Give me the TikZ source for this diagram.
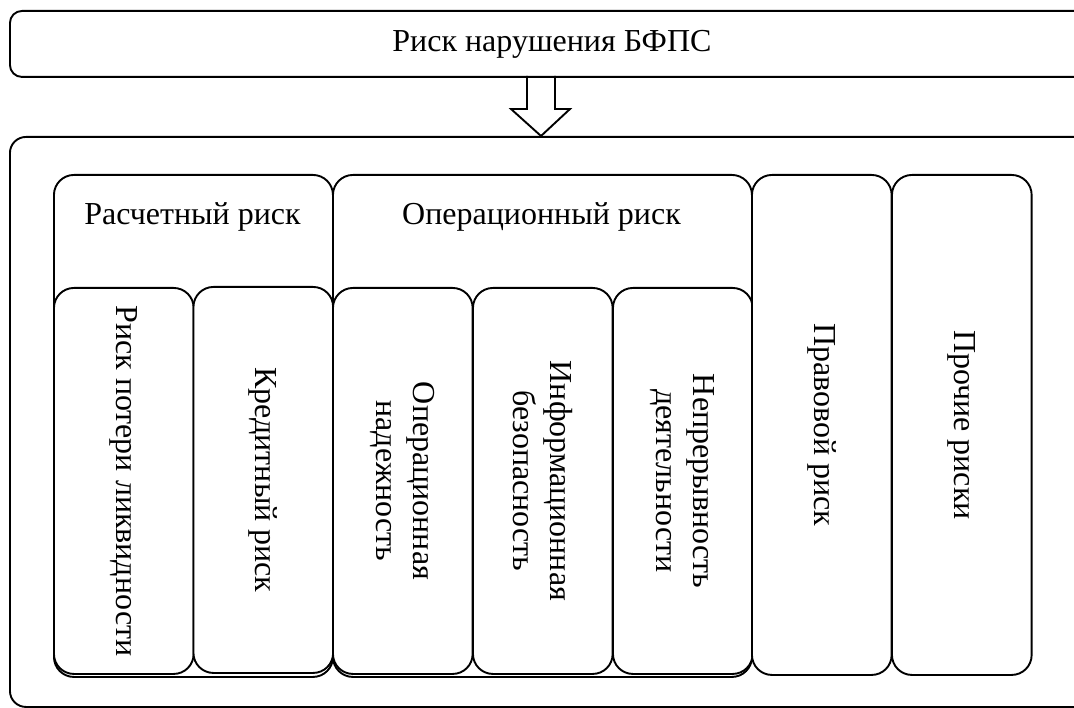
\documentclass[tikz,border=0pt]{standalone}
\usepackage{fontspec}
\setmainfont{Liberation Serif}
\begin{document}
\begin{tikzpicture}[x=1pt,y=-1pt,line width=1.9pt,
  every node/.style={font=\fontsize{32}{37}\selectfont},
  frame/.style={draw,rounded corners=#1,inner sep=0pt,anchor=north west},
  cell/.style={frame=20pt,fill=white,minimum width=139.7pt},
  vtext/.style={rotate=-90,align=center,inner sep=0pt}]
\useasboundingbox (0,0) rectangle (1074,708);
\clip (0,0) rectangle (1074,708);
% block arrow
\coordinate (a1) at (527,76);
\draw[fill=white] (a1) -- ++(0,33) -- ++(-16,0) -- (541,136) -- (570,109) -- (555,109) -- (555,76);
% top box
\node[frame=12pt,minimum width=1084pt,minimum height=66pt] (top) at (9,10) {Риск нарушения БФПС};
% outer frame
\node[frame=16pt,minimum width=1084pt,minimum height=570pt] (outer) at (9,136) {};
% groups
\node[cell,minimum width=279pt,minimum height=502pt] (g1) at (53,174) {};
\node[cell,minimum width=419pt,minimum height=502pt] (g2) at (332,174) {};
\node (g1t) at (192.5,217) {Расчетный риск};
\node (g2t) at (541.5,217) {Операционный риск};
% inner boxes
\node[cell,minimum height=386pt] (c1) at (53,287) {};
\node[cell,minimum height=386pt] (c2) at (192.5,286) {};
\node[cell,minimum height=386pt] (c3) at (332,287) {};
\node[cell,minimum height=386pt] (c4) at (472,287) {};
\node[cell,minimum height=386pt] (c5) at (612,287) {};
\node[cell,minimum height=500pt] (c6) at (751,174) {};
\node[cell,minimum height=500pt] (c7) at (891,174) {};
% texts
\node[vtext] (t1) at (c1.center) {Риск потери ликвидности};
\node[vtext] (t2) at (c2.center) {Кредитный риск};
\node[vtext] (t3) at (c3.center) {Операционная\\надежность};
\node[vtext] (t4) at (c4.center) {Информационная\\безопасность};
\node[vtext] (t5) at (c5.center) {Непрерывность\\деятельности};
\node[vtext] (t6) at (c6.center) {Правовой риск};
\node[vtext] (t7) at (c7.center) {Прочие риски};
\end{tikzpicture}
\end{document}
